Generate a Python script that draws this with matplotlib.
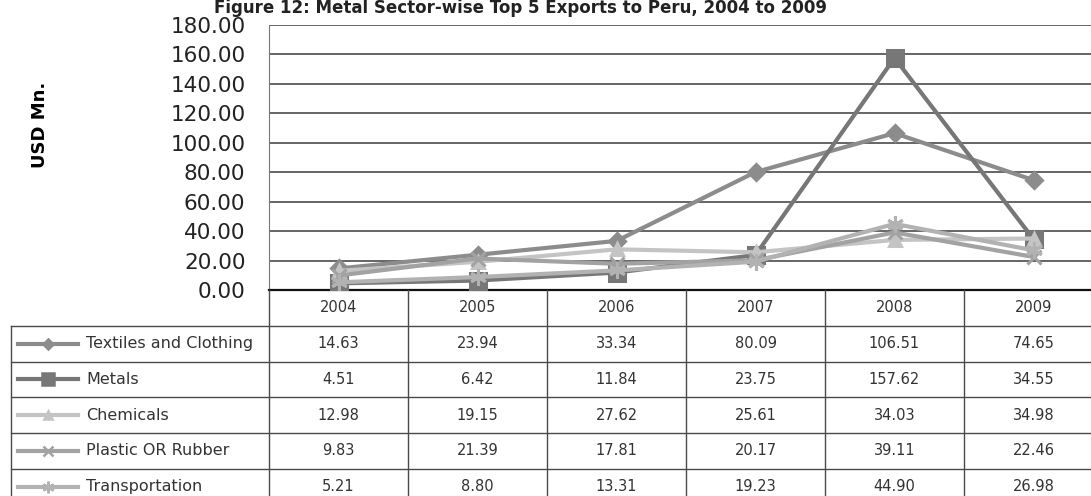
import numpy as np
import matplotlib
matplotlib.use("Agg")
import matplotlib.pyplot as plt

years = ["2004", "2005", "2006", "2007", "2008", "2009"]
sectors = ["Textiles and Clothing", "Metals", "Chemicals",
           "Plastic OR Rubber", "Transportation"]
textiles = [14.63, 23.94, 33.34, 80.09, 106.51, 74.65]
metals = [4.51, 6.42, 11.84, 23.75, 157.62, 34.55]
chemicals = [12.98, 19.15, 27.62, 25.61, 34.03, 34.98]
plastic = [9.83, 21.39, 17.81, 20.17, 39.11, 22.46]
transport = [5.21, 8.80, 13.31, 19.23, 44.90, 26.98]
series = [textiles, metals, chemicals, plastic, transport]
yticks = np.arange(0, 181, 20)

# grey-scale styles like the scanned Excel chart
colors = ["#8c8c8c", "#777777", "#c4c4c4", "#a2a2a2", "#b2b2b2"]
markers = ["D", "s", "^", "x", (6, 2, 0)]
msizes = [8, 12, 9, 10, 12]

W, H = 1091, 496
fig = plt.figure(figsize=(W / 100, H / 100), dpi=100)
fig.patch.set_facecolor("white")
plt.rcParams["font.family"] = "DejaVu Sans"

# plot area: x from 269px to 1103px (cropped on the right), y 0 at 290px, 180 at 25px
left, right = 269, 1103
ax = fig.add_axes([left / W, 1 - 290 / H, (right - left) / W, 265 / H])
x = np.arange(len(years))
for vals, c, m, ms in zip(series, colors, markers, msizes):
    ax.plot(x, vals, color=c, lw=3.0, marker=m, markersize=ms,
            markeredgecolor=c, markerfacecolor=c, markeredgewidth=2.2,
            zorder=3)
ax.set_xlim(-0.5, 5.5)
ax.set_ylim(0, 180)
ax.set_yticks(yticks)
ax.set_yticklabels([f"{v:.2f}" for v in yticks], fontsize=15.5,
                   color="#222222")
ax.set_xticks([])
ax.tick_params(axis="y", length=0, pad=17)
ax.grid(axis="y", color="#3c3c3c", lw=1.1, zorder=1)
for s in ["top", "right"]:
    ax.spines[s].set_visible(False)
ax.spines["left"].set_color("#777777")
ax.spines["bottom"].set_color("#111111")
ax.spines["bottom"].set_linewidth(1.6)
ax.set_facecolor("none")

fig.text(40 / W, 1 - 125 / H, "USD Mn.", rotation=90, fontsize=13,
         fontweight="bold", ha="center", va="center")
fig.text(520 / W, 1 - 13 / H,
         "Figure 12: Metal Sector-wise Top 5 Exports to Peru, 2004 to 2009",
         fontsize=12, fontweight="bold", ha="center", va="baseline",
         color="#222222")

# data table under the chart, same column scale as the plot
tab = fig.add_axes([left / W, 1 - 504.5 / H, (right - left) / W, 214.5 / H])
tab.set_xlim(-0.5, 5.5)
tab.set_ylim(6, 0)
tab.axis("off")
col0 = -0.5 - (left - 11) / 139.0
lc = "#4a4a4a"
for r in range(1, 7):
    tab.plot([col0, 5.5], [r, r], color=lc, lw=1.0, clip_on=False)
tab.plot([col0, col0], [1, 6], color=lc, lw=1.0, clip_on=False)
for k in range(7):
    tab.plot([k - 0.5, k - 0.5], [0, 6], color=lc, lw=1.0, clip_on=False)
for i, yr in enumerate(years):
    tab.text(i, 0.5, yr, ha="center", va="center", fontsize=10.5,
             color="#333333")
for r, (name, vals) in enumerate(zip(sectors, series)):
    yc = r + 1.5
    for i, v in enumerate(vals):
        tab.text(i, yc, f"{v:.2f}", ha="center", va="center", fontsize=10.5,
                 color="#333333")
    kx0 = -0.5 - (left - 18) / 139.0
    kx1 = -0.5 - (left - 78) / 139.0
    tab.plot([kx0, kx1], [yc, yc], color=colors[r], lw=3, clip_on=False)
    tab.plot([(kx0 + kx1) / 2], [yc], color=colors[r], marker=markers[r],
             markersize=msizes[r] * 0.7, markeredgewidth=1.8, clip_on=False)
    tab.text(-0.5 - (left - 86) / 139.0, yc, name, ha="left", va="center",
             fontsize=11.5, color="#333333")

fig.savefig("out.png", dpi=100, facecolor="white")
